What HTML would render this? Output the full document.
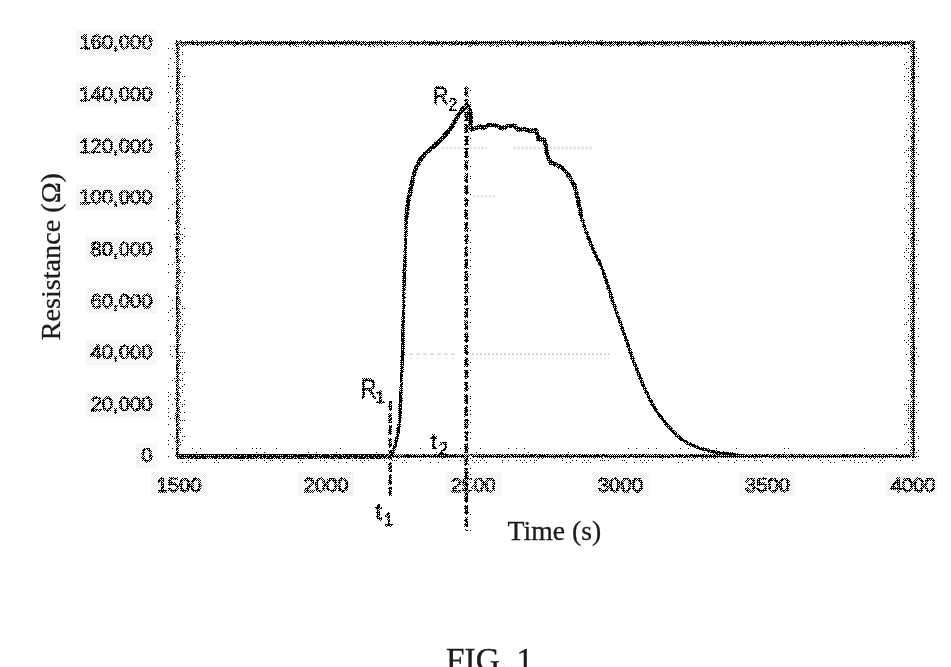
<!DOCTYPE html>
<html lang="en">
<head>
<meta charset="utf-8">
<title>FIG. 1 - Resistance vs Time</title>
<style>
  html, body { margin: 0; padding: 0; background: #ffffff; }
  body { width: 951px; height: 667px; overflow: hidden; position: relative; }
  svg { position: absolute; left: 0; top: 0; display: block; }
  .tick { font-family: "Liberation Sans", sans-serif; font-size: 20.3px; fill: #484848; stroke: #484848; stroke-width: 1.1px; }
  .ann  { font-family: "Liberation Sans", sans-serif; fill: #2c2c2c; stroke: #2c2c2c; stroke-width: 0.75px; }
  .ser  { font-family: "Liberation Serif", serif; fill: #1c1c1c; stroke: #1c1c1c; stroke-width: 0.3px; }
</style>
</head>
<body>
<svg width="951" height="667" viewBox="0 0 951 667">
  <defs>
    <!-- ordered (Bayer 4x4) dither to mimic the 1-bit scanned look of the chart -->
    <filter id="dith" x="0" y="0" width="951" height="667" filterUnits="userSpaceOnUse" primitiveUnits="userSpaceOnUse" color-interpolation-filters="sRGB">
      <feFlood x="0" y="0" width="1" height="1" flood-color="rgb(8,8,8)" result="b00"/>
      <feFlood x="1" y="0" width="1" height="1" flood-color="rgb(135,135,135)" result="b10"/>
      <feFlood x="2" y="0" width="1" height="1" flood-color="rgb(40,40,40)" result="b20"/>
      <feFlood x="3" y="0" width="1" height="1" flood-color="rgb(167,167,167)" result="b30"/>
      <feFlood x="0" y="1" width="1" height="1" flood-color="rgb(199,199,199)" result="b01"/>
      <feFlood x="1" y="1" width="1" height="1" flood-color="rgb(72,72,72)" result="b11"/>
      <feFlood x="2" y="1" width="1" height="1" flood-color="rgb(231,231,231)" result="b21"/>
      <feFlood x="3" y="1" width="1" height="1" flood-color="rgb(104,104,104)" result="b31"/>
      <feFlood x="0" y="2" width="1" height="1" flood-color="rgb(56,56,56)" result="b02"/>
      <feFlood x="1" y="2" width="1" height="1" flood-color="rgb(183,183,183)" result="b12"/>
      <feFlood x="2" y="2" width="1" height="1" flood-color="rgb(24,24,24)" result="b22"/>
      <feFlood x="3" y="2" width="1" height="1" flood-color="rgb(151,151,151)" result="b32"/>
      <feFlood x="0" y="3" width="1" height="1" flood-color="rgb(247,247,247)" result="b03"/>
      <feFlood x="1" y="3" width="1" height="1" flood-color="rgb(120,120,120)" result="b13"/>
      <feFlood x="2" y="3" width="1" height="1" flood-color="rgb(215,215,215)" result="b23"/>
      <feFlood x="3" y="3" width="1" height="1" flood-color="rgb(88,88,88)" result="b33"/>
      <feMerge x="0" y="0" width="4" height="4" result="cell">
        <feMergeNode in="b00"/>
        <feMergeNode in="b10"/>
        <feMergeNode in="b20"/>
        <feMergeNode in="b30"/>
        <feMergeNode in="b01"/>
        <feMergeNode in="b11"/>
        <feMergeNode in="b21"/>
        <feMergeNode in="b31"/>
        <feMergeNode in="b02"/>
        <feMergeNode in="b12"/>
        <feMergeNode in="b22"/>
        <feMergeNode in="b32"/>
        <feMergeNode in="b03"/>
        <feMergeNode in="b13"/>
        <feMergeNode in="b23"/>
        <feMergeNode in="b33"/>
      </feMerge>
      <feTile in="cell" x="0" y="0" width="951" height="667" result="map0"/>
      <feTurbulence type="fractalNoise" baseFrequency="0.85" numOctaves="1" seed="7" x="0" y="0" width="951" height="667" result="noise0"/>
      <feColorMatrix in="noise0" type="matrix" values="3.2 0 0 0 -1.1  3.2 0 0 0 -1.1  3.2 0 0 0 -1.1  0 0 0 0 1" result="noise"/>
      <feComposite in="map0" in2="noise" operator="arithmetic" k1="0" k2="0.7" k3="0.3" k4="0" x="0" y="0" width="951" height="667" result="map"/>
      <!-- pre-compensation so that the dithered output keeps the mean tone of the input -->
      <feComponentTransfer in="SourceGraphic" result="src">
        <feFuncR type="table" tableValues="0.000 0.085 0.131 0.153 0.177 0.199 0.219 0.240 0.251 0.265 0.286 0.296 0.311 0.325 0.342 0.357 0.367 0.380 0.397 0.408 0.424 0.434 0.448 0.462 0.479 0.492 0.503 0.518 0.532 0.547 0.559 0.570 0.586 0.600 0.614 0.628 0.641 0.657 0.670 0.681 0.700 0.711 0.723 0.743 0.758 0.780 0.799 0.815 0.841 0.869 0.911 1.000"/>
        <feFuncG type="table" tableValues="0.000 0.085 0.131 0.153 0.177 0.199 0.219 0.240 0.251 0.265 0.286 0.296 0.311 0.325 0.342 0.357 0.367 0.380 0.397 0.408 0.424 0.434 0.448 0.462 0.479 0.492 0.503 0.518 0.532 0.547 0.559 0.570 0.586 0.600 0.614 0.628 0.641 0.657 0.670 0.681 0.700 0.711 0.723 0.743 0.758 0.780 0.799 0.815 0.841 0.869 0.911 1.000"/>
        <feFuncB type="table" tableValues="0.000 0.085 0.131 0.153 0.177 0.199 0.219 0.240 0.251 0.265 0.286 0.296 0.311 0.325 0.342 0.357 0.367 0.380 0.397 0.408 0.424 0.434 0.448 0.462 0.479 0.492 0.503 0.518 0.532 0.547 0.559 0.570 0.586 0.600 0.614 0.628 0.641 0.657 0.670 0.681 0.700 0.711 0.723 0.743 0.758 0.780 0.799 0.815 0.841 0.869 0.911 1.000"/>
      </feComponentTransfer>
      <feComposite in="src" in2="map" operator="arithmetic" k1="0" k2="1" k3="1" k4="-0.5" x="0" y="0" width="951" height="667" result="sum"/>
      <feComponentTransfer in="sum" result="bw">
        <feFuncR type="discrete" tableValues="0 1"/>
        <feFuncG type="discrete" tableValues="0 1"/>
        <feFuncB type="discrete" tableValues="0 1"/>
        <feFuncA type="discrete" tableValues="1 1"/>
      </feComponentTransfer>
      <feGaussianBlur in="bw" stdDeviation="0.33"/>
    </filter>
    <!-- light checker used for the soft noise halo around tick labels -->
    <pattern id="halo" x="0" y="0" width="2" height="2" patternUnits="userSpaceOnUse">
      <rect x="0" y="0" width="1" height="1" fill="#ececec"/>
      <rect x="1" y="1" width="1" height="1" fill="#f0f0f0"/>
    </pattern>
  </defs>
  <g filter="url(#dith)">
  <rect x="0" y="0" width="951" height="667" fill="#ffffff"/>

  <!-- plot frame: light fringe + dark core, each side separately -->
  <g fill="none" stroke-linecap="butt">
    <!-- fringes -->
    <rect x="168" y="43" width="7.6" height="414" fill="#fafafa" stroke="none"/>
    <rect x="179.8" y="46" width="4.4" height="407.5" fill="#e9e9e9" stroke="none"/>
    <rect x="904.7" y="46" width="6" height="407.5" fill="#efefef" stroke="none"/>
    <rect x="915.2" y="43" width="4.6" height="416" fill="#f2f2f2" stroke="none"/>
    <rect x="179.8" y="45.8" width="731" height="2" fill="#ececec" stroke="none"/>
    <rect x="175.6" y="448.2" width="740" height="6" fill="#fcfcfc" stroke="none"/>
    <rect x="175.6" y="457.7" width="742" height="5.8" fill="#f4f4f4" stroke="none"/>
    <!-- cores -->
    <rect x="175.6" y="40.9" width="739.6" height="4.9" fill="#989898" stroke="none"/>
    <rect x="175.6" y="41.8" width="739.6" height="2.2" fill="#262626" stroke="none"/>
    <rect x="175.6" y="454.4" width="739.6" height="3.3" fill="#2a2a2a" stroke="none"/>
    <rect x="175.6" y="40.9" width="4.2" height="417" fill="#8a8a8a" stroke="none"/>
    <rect x="176.1" y="40.9" width="1.3" height="417" fill="#303030" stroke="none"/>
    <rect x="910.7" y="40.9" width="4.5" height="417" fill="#8a8a8a" stroke="none"/>
    <rect x="912.3" y="40.9" width="2.4" height="417" fill="#2c2c2c" stroke="none"/>
  </g>

  <!-- y tick labels -->
  <g class="tick" text-anchor="end">
    <text x="152.5" y="49.3">160,000</text>
    <text x="152.5" y="100.9">140,000</text>
    <text x="152.5" y="152.6">120,000</text>
    <text x="152.5" y="204.2">100,000</text>
    <text x="152.5" y="255.8">80,000</text>
    <text x="152.5" y="307.5">60,000</text>
    <text x="152.5" y="359.1">40,000</text>
    <text x="152.5" y="410.7">20,000</text>
    <text x="152.5" y="462.4">0</text>
  </g>

  <!-- x tick labels -->
  <g class="tick" text-anchor="middle">
    <text x="179" y="492.2">1500</text>
    <text x="326" y="492.2">2000</text>
    <text x="473.3" y="492.2">2500</text>
    <text x="620.4" y="492.2">3000</text>
    <text x="767.5" y="492.2">3500</text>
    <text x="913" y="492.2">4000</text>
  </g>

  <!-- light fringe of the t2 marker -->
  <line x1="469.8" y1="86.8" x2="469.8" y2="531" stroke="#f2f2f2" stroke-width="3.6" stroke-dasharray="9.6 2.7"/>

  <!-- data curve -->
  <path id="curve" fill="none" stroke="#202020" stroke-width="3.3" stroke-linejoin="round" stroke-linecap="round"
    d="M178.0,456.0 L390.6,456.0 L391.5,455.0 L393.6,450.4 L396.2,442.0 L398.3,431.5 L399.9,415.7 L400.6,400.0 L401.3,382.6 L402.6,355.2 L402.8,339.0 L403.5,310.0 L404.4,275.0 L405.6,242.0 L406.3,217.4 L408.2,201.0 L411.6,185.0 L415.0,170.3 L419.6,160.5 L426.5,152.2 L435.0,145.5 L442.3,138.1 L449.7,129.7 L454.9,121.3 L459.1,113.9 L464.0,107.8 L467.0,105.3 L469.6,109.5 L470.6,116.0 L470.8,124.0 L470.9,129.6 L474.0,128.4 L477.0,127.5 L480.0,126.6 L484.2,127.6 L489.5,125.0 L496.8,125.5 L502.1,128.7 L507.3,126.0 L514.7,125.5 L517.9,129.7 L525.2,129.2 L530.5,131.3 L535.7,130.2 L537.8,135.5 L538.9,139.7 L544.1,139.7 L545.7,145.0 L546.2,151.3 L548.3,157.6 L550.5,162.6 L555.7,164.4 L561.0,167.0 L565.2,171.2 L569.4,176.3 L574.6,186.5 L577.8,199.0 L581.0,215.2 L585.2,228.9 L589.4,240.4 L594.7,253.0 L601.0,265.7 L606.2,280.4 L612.6,301.0 L620.0,322.0 L627.3,343.0 L634.7,364.0 L643.0,385.0 L651.8,403.2 L659.1,415.0 L668.0,426.0 L676.8,435.6 L687.1,443.0 L698.9,448.1 L713.6,451.8 L728.3,454.0 L743.0,455.6"/>
  <!-- flat baseline part of the trace overlapping the x axis -->
  <line x1="177" y1="456.4" x2="390" y2="456.4" stroke="#262626" stroke-width="4.8"/>
  <!-- the upper part of the trace prints heavier in the scan -->
  <path id="curveTop" fill="none" stroke="#202020" stroke-width="4.2" stroke-linejoin="round" stroke-linecap="round"
    d="M406.3,217.4 L408.2,201.0 L411.6,185.0 L415.0,170.3 L419.6,160.5 L426.5,152.2 L435.0,145.5 L442.3,138.1 L449.7,129.7 L454.9,121.3 L459.1,113.9 L464.0,107.8 L467.0,105.3 L469.6,109.5 L470.6,116.0 L470.8,124.0 L470.9,129.6 L474.0,128.4 L477.0,127.5 L480.0,126.6 L484.2,127.6 L489.5,125.0 L496.8,125.5 L502.1,128.7 L507.3,126.0 L514.7,125.5 L517.9,129.7 L525.2,129.2 L530.5,131.3 L535.7,130.2 L537.8,135.5 L538.9,139.7 L544.1,139.7 L545.7,145.0 L546.2,151.3 L548.3,157.6 L550.5,162.6 L555.7,164.4 L561.0,167.0 L565.2,171.2 L569.4,176.3 L574.6,186.5 L577.8,199.0 L581.0,215.2"/>

  <!-- dashed marker lines -->
  <line x1="390.2" y1="401" x2="390.2" y2="495.8" stroke="#8c8c8c" stroke-width="3.3" stroke-dasharray="9.6 2.7"/>
  <line x1="390.4" y1="401" x2="390.4" y2="495.8" stroke="#1c1c1c" stroke-width="2.1" stroke-dasharray="9.6 2.7"/>
  <line x1="466.2" y1="86.8" x2="466.2" y2="531" stroke="#8c8c8c" stroke-width="3.5" stroke-dasharray="9.6 2.7"/>
  <line x1="466.5" y1="86.8" x2="466.5" y2="531" stroke="#1c1c1c" stroke-width="2.2" stroke-dasharray="9.6 2.7"/>

  <!-- annotations -->
  <g class="ann">
    <text id="R1a" transform="translate(360.4,398) scale(0.80,1)" font-size="27.8">R</text>
    <text id="R1b" transform="translate(375.6,403.1) scale(1,1)" font-size="16.5">1</text>
    <text id="R2a" transform="translate(432.9,104.1) scale(0.9,1)" font-size="23.4">R</text>
    <text id="R2b" transform="translate(448.5,111) scale(0.85,1)" font-size="18.4">2</text>
    <text id="t2a" transform="translate(430.3,449.4) scale(1.15,1)" font-size="21.5">t</text>
    <text id="t2b" transform="translate(438.8,455.3) scale(0.9,1)" font-size="18.5">2</text>
    <text id="t1a" transform="translate(375.4,519.7) scale(1,1)" font-size="23">t</text>
    <text id="t1b" transform="translate(383.9,526) scale(0.85,1)" font-size="19">1</text>
  </g>

  </g>

  <!-- faint scan-noise halos around the tick labels -->
  <g fill="url(#halo)" stroke="none" style="mix-blend-mode:multiply">
    <rect x="76.0" y="30.2" width="81.0" height="25"/>
    <rect x="76.0" y="81.8" width="81.0" height="25"/>
    <rect x="76.0" y="133.5" width="81.0" height="25"/>
    <rect x="76.0" y="185.1" width="81.0" height="25"/>
    <rect x="86.0" y="236.8" width="71.0" height="25"/>
    <rect x="86.0" y="288.4" width="71.0" height="25"/>
    <rect x="86.0" y="340.0" width="71.0" height="25"/>
    <rect x="86.0" y="391.7" width="71.0" height="25"/>
    <rect x="136.0" y="443.3" width="21.0" height="25"/>
    <rect x="151.0" y="472" width="56.0" height="24"/>
    <rect x="298.0" y="472" width="56.0" height="24"/>
    <rect x="445.3" y="472" width="56.0" height="24"/>
    <rect x="592.4" y="472" width="56.0" height="24"/>
    <rect x="739.5" y="472" width="56.0" height="24"/>
    <rect x="885.0" y="472" width="52.0" height="24"/>
  </g>

  <!-- faint dotted guide lines (remnants of light grid lines) -->
  <g fill="none" style="mix-blend-mode:multiply">
    <line x1="409" y1="354.2" x2="456" y2="354.2" stroke="#e2e2e2" stroke-width="2.2" stroke-dasharray="4 3"/>
    <line x1="472" y1="354.2" x2="612" y2="354.2" stroke="#d9d9d9" stroke-width="2.2" stroke-dasharray="2 2"/>
    <line x1="409" y1="358.4" x2="456" y2="358.4" stroke="#f3f3f3" stroke-width="1.6" stroke-dasharray="4 3"/>
    <line x1="472" y1="358.4" x2="612" y2="358.4" stroke="#f0f0f0" stroke-width="2" stroke-dasharray="2 2"/>
    <line x1="441.5" y1="147.9" x2="487" y2="147.9" stroke="#e6e6e6" stroke-width="3" stroke-dasharray="2.4 1.6"/>
    <line x1="513.5" y1="147.9" x2="592" y2="147.9" stroke="#e4e4e4" stroke-width="3" stroke-dasharray="2.4 1.6"/>
    <line x1="472.6" y1="196.5" x2="495.4" y2="196.5" stroke="#e8e8e8" stroke-width="3" stroke-dasharray="2.4 1.6"/>
  </g>

  <!-- axis titles -->
  <text class="ser" x="507.6" y="539.5" font-size="27.7">Time (s)</text>
  <text class="ser" transform="translate(59.7,340.3) rotate(-90)" font-size="28.2">Resistance (Ω)</text>
  <text class="ser" x="446" y="671.3" font-size="33.4">FIG. 1</text>
</svg>
</body>
</html>
